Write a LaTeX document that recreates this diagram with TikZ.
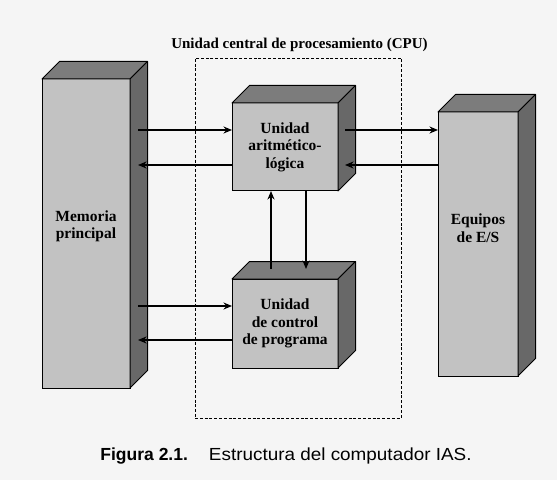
\documentclass[tikz,border=0pt]{standalone}
\usepackage{fontspec}
\setmainfont{Liberation Serif}
\newfontfamily\capfont{Liberation Sans}
\usetikzlibrary{arrows.meta,calc}
\definecolor{bgc}{RGB}{245,245,245}
\definecolor{frontc}{RGB}{194,194,194}
\definecolor{topc}{RGB}{124,124,124}
\definecolor{sidec}{RGB}{104,104,104}
\newcommand\drawdepth[1]{%
  \draw[topface] (#1.north west) -- ++(17.5,17.5) -- ($(#1.north east)+(17.5,17.5)$) -- (#1.north east) -- cycle;
  \draw[sideface] (#1.north east) -- ++(17.5,17.5) -- ($(#1.south east)+(17.5,17.5)$) -- (#1.south east) -- cycle;}
\begin{document}
\begin{tikzpicture}[x=1pt,y=1pt,
  front/.style={draw=black,line width=1pt,fill=frontc,inner sep=0pt,outer sep=0pt,rectangle},
  topface/.style={draw=black,line width=1pt,fill=topc,line join=round},
  sideface/.style={draw=black,line width=1pt,fill=sidec,line join=round},
  lbl/.style={font=\bfseries\fontsize{15.5}{17.5}\selectfont,align=center,inner sep=0pt},
  arr/.style={line width=1.8pt,-{Stealth[length=8.5pt,width=7pt]}},
  cpubox/.style={draw=black,line width=0.8pt,dash pattern=on 3pt off 1.8pt}]
\fill[bgc] (0,0) rectangle (557,480);
\useasboundingbox (0,0) rectangle (557,480);
% CPU dashed frame
\node[cpubox,minimum width=206pt,minimum height=360pt,inner sep=0pt] (cpu) at (298,242) {};
\node[font=\bfseries\fontsize{15}{18}\selectfont,inner sep=0pt] (cputitle) at (299.5,435) {Unidad central de procesamiento (CPU)};
% Boxes
\node[front,minimum width=88pt,minimum height=309pt] (mem) at (86,246.5) {};
\drawdepth{mem}
\node[front,minimum width=106pt,minimum height=88pt] (alu) at (285,333) {};
\drawdepth{alu}
\node[front,minimum width=106pt,minimum height=89pt] (ctl) at (285,156.5) {};
\drawdepth{ctl}
\node[front,minimum width=80pt,minimum height=264pt] (io) at (478,236) {};
\drawdepth{io}
% Labels
\node[lbl] (memtxt) at ($(mem.center)+(0,7)$) {Memoria\\principal};
\node[lbl] (alutxt) at (alu.center) {Unidad\\aritmético-\\lógica};
\node[lbl] (ctltxt) at (ctl.center) {Unidad\\de control\\de programa};
\node[lbl] (iotxt) at ($(io.center)+(0,16)$) {Equipos\\de E/S};
% Connector coordinates
\coordinate (memside) at ($(mem.east)+(8,0)$);
\coordinate (aluside) at ($(alu.east)+(7,0)$);
\coordinate (a1) at ($(alu.west)+(0,17)$);
\coordinate (a2) at ($(alu.west)+(0,-18)$);
\coordinate (a3) at ($(alu.east)+(0,17)$);
\coordinate (a4) at ($(alu.east)+(0,-18)$);
\coordinate (c1) at ($(ctl.west)+(0,17.5)$);
\coordinate (c2) at ($(ctl.west)+(0,-16.5)$);
\coordinate (up) at ($(ctl.north)+(-14,10)$);
\coordinate (dn) at ($(ctl.north)+(21,10)$);
% Arrows
\draw[arr] (memside |- a1) -- (a1);
\draw[arr] (a2) -- (memside |- a2);
\draw[arr] (aluside |- a3) -- (io.west |- a3);
\draw[arr] (io.west |- a4) -- (aluside |- a4);
\draw[arr] (memside |- c1) -- (c1);
\draw[arr] (c2) -- (memside |- c2);
\draw[arr] (up) -- (up |- alu.south);
\draw[arr] (dn |- alu.south) -- (dn);
% Caption
\node[font=\capfont\fontsize{17.5}{20}\selectfont,inner sep=0pt] (caption) at (286,24) {\textbf{Figura 2.1.}\hspace{1.2em}{\addfontfeature{FakeStretch=1.08}Estructura del computador IAS.}};
\end{tikzpicture}
\end{document}
